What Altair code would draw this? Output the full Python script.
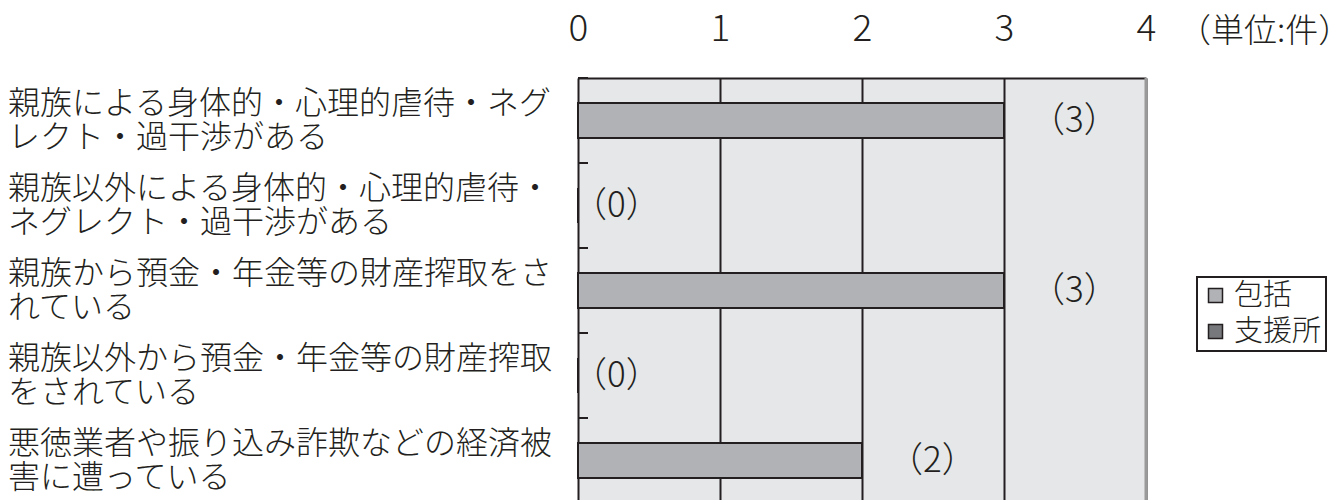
import altair as alt
import pandas as pd

FONT = "Noto Sans CJK JP"
INK = "#231f20"

categories = [
    "親族による身体的・心理的虐待・ネグ\nレクト・過干渉がある",
    "親族以外による身体的・心理的虐待・\nネグレクト・過干渉がある",
    "親族から預金・年金等の財産搾取をさ\nれている",
    "親族以外から預金・年金等の財産搾取\nをされている",
    "悪徳業者や振り込み詐欺などの経済被\n害に遭っている",
]
series_names = ["包括", "支援所"]
series_colors = ["#b1b2b5", "#77787b"]
houkatsu = [3, 0, 3, 0, 2]
value_labels = ["（3）", "（0）", "（3）", "（0）", "（2）"]
x_ticks = [0, 1, 2, 3, 4]
unit_label = "（単位:件）"

df = pd.DataFrame({
    "category": categories,
    "series": [series_names[0]] * len(categories),
    "value": houkatsu,
    "label": value_labels,
})

x_scale = alt.Scale(domain=[x_ticks[0], x_ticks[-1]], nice=False, zero=True)
y_scale = alt.Scale(paddingInner=0, paddingOuter=0)


def y_enc(**kw):
    return alt.Y("category:N", sort=categories, axis=None, scale=y_scale, **kw)


base = alt.Chart(df)

bars = base.mark_bar(size=35, stroke=INK, strokeWidth=2).encode(
    x=alt.X("value:Q", scale=x_scale, title=None,
            axis=alt.Axis(orient="top", values=x_ticks, format="d",
                          labelFontSize=37, labelFont=FONT, labelColor=INK,
                          labelFontWeight=300, labelFlush=False,
                          labelOverlap=False,
                          domainColor=INK, domainWidth=2,
                          grid=True, gridColor=INK, gridWidth=2, gridOpacity=1,
                          ticks=False, tickSize=0, labelPadding=30)),
    y=y_enc(),
    color=alt.Color(
        "series:N",
        scale=alt.Scale(domain=series_names, range=series_colors),
        legend=alt.Legend(
            title=None, orient="none", legendX=619, legendY=199,
            strokeColor=INK, fillColor="white", padding=4,
            symbolType="square", symbolSize=196, symbolStrokeColor=INK,
            symbolStrokeWidth=1.5, symbolOpacity=1,
            labelFontSize=29, labelFont=FONT, labelColor=INK,
            labelFontWeight=300,
            rowPadding=6, labelOffset=4,
        ),
    ),
)

labels_pos = base.transform_filter("datum.value > 0").mark_text(
    align="left", baseline="middle", dx=26, fontSize=35, font=FONT,
    fontWeight=300, color=INK
).encode(x=alt.X("value:Q", scale=x_scale), y=y_enc(), text="label:N")

labels_zero = base.transform_filter("datum.value == 0").mark_text(
    align="left", baseline="middle", dx=-6, fontSize=35, font=FONT,
    fontWeight=300, color=INK
).encode(x=alt.X("value:Q", scale=x_scale), y=y_enc(), text="label:N")

cat_text = base.mark_text(
    align="left", baseline="middle", fontSize=32, lineHeight=34, dy=-17,
    lineBreak="\n", font=FONT, fontWeight=300, color=INK
).encode(y=y_enc(), x=alt.value(-570), text="category:N")

inner_ticks = base.mark_rule(color=INK, strokeWidth=2).encode(
    y=y_enc(bandPosition=0), x=alt.value(0), x2=alt.value(10)
)

right_edge = alt.Chart(pd.DataFrame({"v": [x_ticks[-1]]})).mark_rule(
    color="#9a9a9a", strokeWidth=3
).encode(x=alt.X("v:Q", scale=x_scale), y=alt.value(0), y2=alt.value(425))

unit = alt.Chart(pd.DataFrame({"t": [unit_label]})).mark_text(
    align="left", baseline="middle", fontSize=33, font=FONT, fontWeight=300,
    color=INK
).encode(x=alt.value(600), y=alt.value(-46), text="t:N")

chart = alt.layer(
    bars, labels_pos, labels_zero, cat_text, inner_ticks, right_edge, unit
).properties(
    width=568, height=425,
    autosize=alt.AutoSizeParams(type="none"),
    padding={"left": 570, "top": 70, "right": 183, "bottom": 0},
    background="white",
).configure_view(
    fill="#e6e7e8", stroke=None
).configure_legend(
    strokeWidth=2
)

chart.save("out.html", embed_options={"renderer": "svg", "actions": False})
